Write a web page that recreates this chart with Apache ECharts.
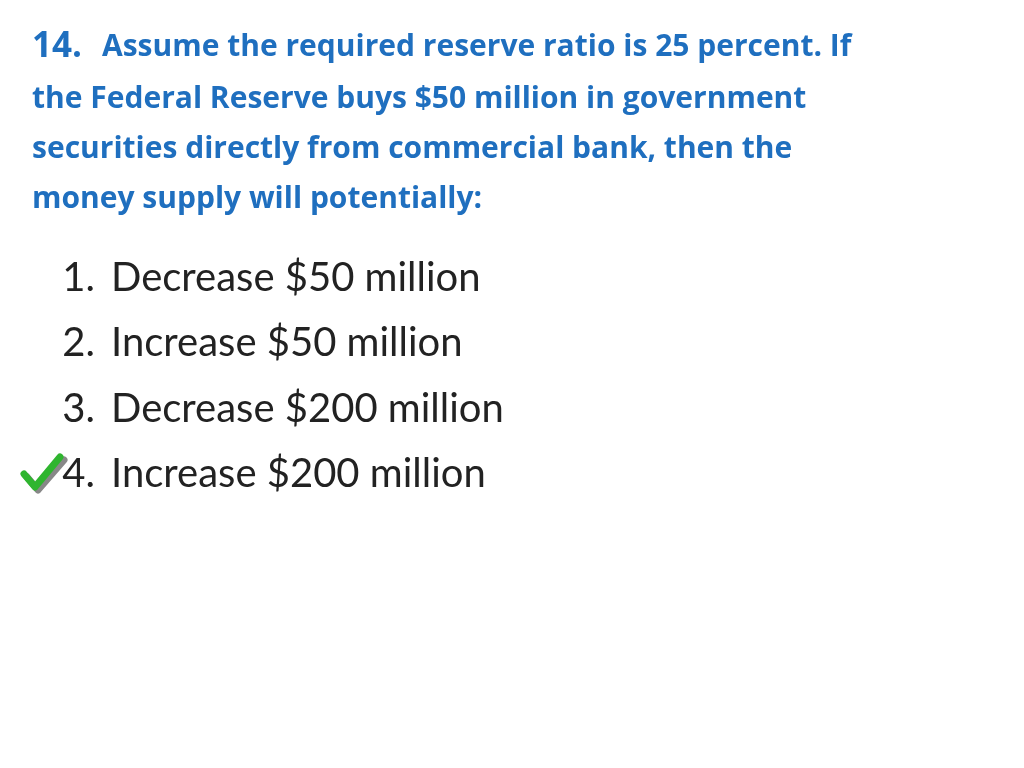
<!DOCTYPE html>
<html><head><meta charset="utf-8">
<script src="https://cdn.jsdelivr.net/npm/echarts@6/dist/echarts.min.js"></script>
<style>html,body{margin:0;background:#fff}#c{width:1024px;height:768px}</style>
</head><body><div id="c"></div>
<script>
const questionNumber = "14.";
const questionLines = [
  "Assume the required reserve ratio is 25 percent. If",
  "the Federal Reserve buys $50 million in government",
  "securities directly from commercial bank, then the",
  "money supply will potentially:"
];
const optionNumbers = ["1.", "2.", "3.", "4."];
const optionTexts = ["Decrease $50 million", "Increase $50 million", "Decrease $200 million", "Increase $200 million"];
const correctIndex = 3;

const chart = echarts.init(document.getElementById('c'));
const blue = '#1f6fbf';
const tfont = '"Open Sans", Lato, sans-serif';
const ofont = 'Lato, "Open Sans", sans-serif';
const els = [];
els.push({type:'text', x:32, y:47, style:{text:questionNumber, font:'bold 35px '+tfont, fill:blue, verticalAlign:'middle'}});
const qy = [47, 99, 149, 199];
questionLines.forEach((t,i)=>{
  els.push({type:'text', x: i===0?102:32, y: qy[i], style:{text:t, font:'bold 30px '+tfont, fill:blue, verticalAlign:'middle'}});
});
const oy = [278, 343, 409, 474];
optionTexts.forEach((t,i)=>{
  els.push({type:'text', x:95, y:oy[i], style:{text:optionNumbers[i], font:'40px '+ofont, fill:'#222', align:'right', verticalAlign:'middle'}});
  els.push({type:'text', x:111, y:oy[i], style:{text:t, font:'40px '+ofont, fill:'#222', verticalAlign:'middle'}});
});
const cy = oy[correctIndex];
els.push({type:'polyline', shape:{points:[[27,cy+3],[38,cy+16],[64,cy-14]]}, style:{stroke:'#888', lineWidth:7, fill:null, lineCap:'round', lineJoin:'round'}});
els.push({type:'polyline', shape:{points:[[24,cy],[35,cy+13],[60,cy-17]]}, style:{stroke:'#2fb52f', lineWidth:7, fill:null, lineCap:'round', lineJoin:'round'}});
chart.setOption({graphic:{elements:els}});
</script></body></html>
